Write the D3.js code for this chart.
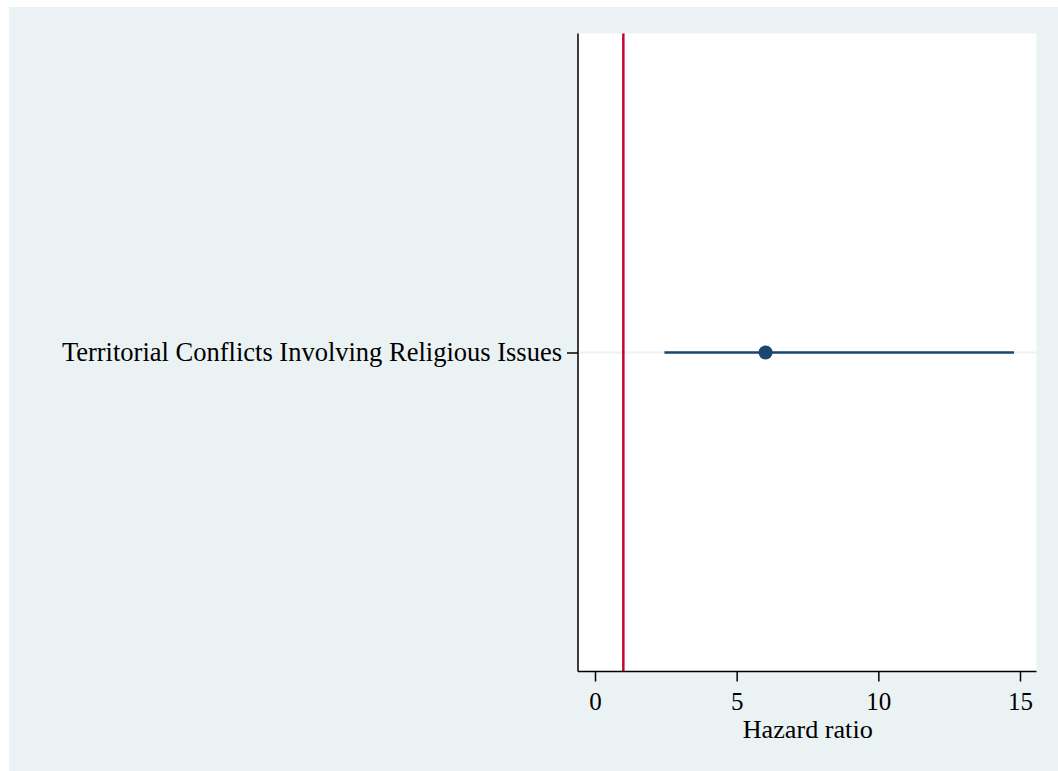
<!DOCTYPE html>
<html>
<head>
<meta charset="utf-8">
<script src="https://cdn.jsdelivr.net/npm/d3@7"></script>
<style>
  html, body { margin: 0; padding: 0; background: #ffffff; }
  svg { display: block; }
  text { font-family: "Liberation Serif", "Times New Roman", serif; fill: #000; }
</style>
</head>
<body>
<svg id="chart" width="1058" height="771"></svg>
<script>
// Hazard ratio estimates with 95% confidence intervals
const categories = ["Territorial Conflicts Involving Religious Issues"];
const estimates = [6.02];
const ciLower = [2.45];
const ciUpper = [14.79];
const referenceValue = [1];
const xTicks = [0, 5, 10, 15];
const xTitle = "Hazard ratio";

const W = 1058, H = 771;
const plot = { left: 578, right: 1036.5, top: 33.5, bottom: 671.5 };

const svg = d3.select("#chart");

// outer graph region
svg.append("rect").attr("x", 9).attr("y", 7).attr("width", W - 9).attr("height", H - 7)
  .attr("fill", "#eaf2f3");

// plot region
svg.append("rect").attr("x", plot.left).attr("y", plot.top)
  .attr("width", plot.right - plot.left).attr("height", plot.bottom - plot.top)
  .attr("fill", "#ffffff");

const x = d3.scaleLinear().domain([0, 15]).range([595, 1020]);
const y = d3.scalePoint().domain(categories).range([352.5, 352.5]);

// horizontal grid line per category
svg.append("g").selectAll("line").data(categories).join("line")
  .attr("x1", plot.left).attr("x2", plot.right)
  .attr("y1", d => y(d)).attr("y2", d => y(d))
  .attr("stroke", "#eaf2f3").attr("stroke-width", 2);

// reference line at HR = 1
svg.append("g").selectAll("line").data(referenceValue).join("line")
  .attr("x1", d => x(d)).attr("x2", d => x(d))
  .attr("y1", plot.top).attr("y2", plot.bottom)
  .attr("stroke", "#c10534").attr("stroke-width", 2.5);

// confidence intervals
svg.append("g").selectAll("line").data(categories).join("line")
  .attr("x1", (d, i) => x(ciLower[i])).attr("x2", (d, i) => x(ciUpper[i]))
  .attr("y1", d => y(d)).attr("y2", d => y(d))
  .attr("stroke", "#1a476f").attr("stroke-width", 2.7);

// point estimates
svg.append("g").selectAll("circle").data(categories).join("circle")
  .attr("cx", (d, i) => x(estimates[i])).attr("cy", d => y(d))
  .attr("r", 7).attr("fill", "#1a476f");

// x axis
const xAxis = d3.axisBottom(x).tickValues(xTicks).tickSize(10).tickFormat(d3.format("d"));
const gx = svg.append("g").attr("transform", `translate(0,${plot.bottom})`).call(xAxis);
gx.select(".domain").attr("d", `M${plot.left},0H${plot.right}`).attr("stroke", "#000").attr("stroke-width", 1.5);
gx.selectAll(".tick line").attr("stroke", "#000").attr("stroke-width", 1.5);
gx.selectAll(".tick text").attr("dy", null).attr("y", 38.5)
  .style("font-family", '"Liberation Serif", serif').style("font-size", "25px").attr("fill", "#000");

// y axis
const yAxis = d3.axisLeft(y).tickSize(11).tickPadding(5);
const gy = svg.append("g").attr("transform", `translate(${plot.left},0)`).call(yAxis);
gy.select(".domain").attr("d", `M0,${plot.top}V${plot.bottom}`).attr("stroke", "#000").attr("stroke-width", 1.5);
gy.selectAll(".tick line").attr("stroke", "#000").attr("stroke-width", 1.5);
gy.selectAll(".tick text").style("font-family", '"Liberation Serif", serif').style("font-size", "26.5px").attr("fill", "#000");

// axis title
svg.append("text").attr("x", 807.7).attr("y", 738)
  .attr("text-anchor", "middle").style("font-size", "26.2px").text(xTitle);
</script>
</body>
</html>
